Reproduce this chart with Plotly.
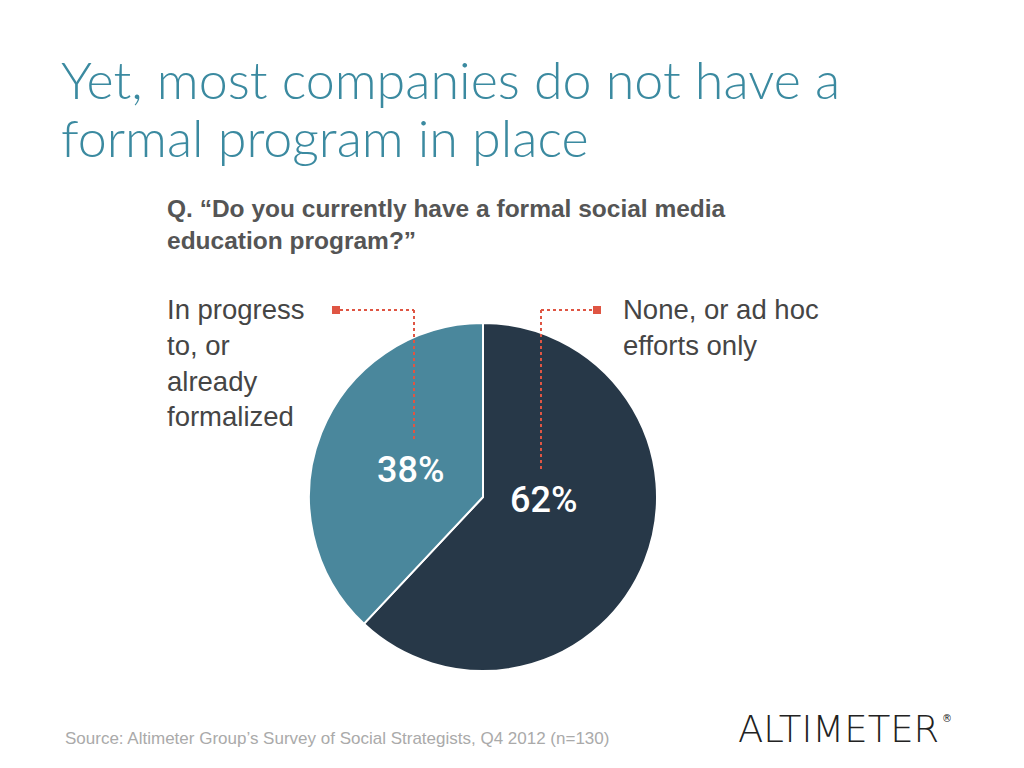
import plotly.graph_objects as go

# ---- data ----
categories = ["None, or ad hoc efforts only", "In progress to, or already formalized"]
values = [62, 38]
colors = ["#273848", "#4a879c"]
title_lines = ["Yet, most companies do not have a", "formal program in place"]
question = "Q. \u201cDo you currently have a formal social media<br>education program?\u201d"
left_label = "In progress<br>to, or<br>already<br>formalized"
right_label = "None, or ad hoc<br>efforts only"
source = "Source: Altimeter Group\u2019s Survey of Social Strategists, Q4 2012 (n=130)"

W, H = 1024, 768
def px(x):
    return x / W
def py(y):
    return 1 - y / H

cx, cy, r = 483, 497, 174

fig = go.Figure()
fig.add_trace(go.Pie(
    labels=categories, values=values, sort=False, direction="clockwise", rotation=0,
    marker=dict(colors=colors, line=dict(color="white", width=2)),
    textinfo="none", hoverinfo="label+percent", showlegend=False,
    domain=dict(x=[px(cx - r), px(cx + r)], y=[py(cy + r), py(cy - r)]),
))

total = sum(values)
pct = [f"{round(v * 100 / total)}%" for v in values]

ann = []
# title (two lines, placed individually for tight line spacing)
for i, line in enumerate(title_lines):
    ann.append(dict(text=line, x=px(59), y=py(79 + 58 * i), xref="paper", yref="paper",
                    xanchor="left", yanchor="middle", align="left", showarrow=False,
                    font=dict(family="Lato", size=52, color="#3b8aa0", weight=300)))
# question
ann.append(dict(text=question, x=px(165), y=py(193), xref="paper", yref="paper",
                xanchor="left", yanchor="top", align="left", showarrow=False,
                font=dict(family="Liberation Sans", size=24.5, color="#555555", weight="bold")))
# left label
ann.append(dict(text=left_label, x=px(165), y=py(292), xref="paper", yref="paper",
                xanchor="left", yanchor="top", align="left", showarrow=False,
                font=dict(family="Liberation Sans", size=27.5, color="#454545")))
# right label
ann.append(dict(text=right_label, x=px(621), y=py(292), xref="paper", yref="paper",
                xanchor="left", yanchor="top", align="left", showarrow=False,
                font=dict(family="Liberation Sans", size=27.5, color="#454545")))
# percentages
ann.append(dict(text=pct[1], x=px(410), y=py(470), xref="paper", yref="paper",
                showarrow=False, font=dict(family="Roboto", size=36, color="white", weight=500)))
ann.append(dict(text=pct[0], x=px(543), y=py(500), xref="paper", yref="paper",
                showarrow=False, font=dict(family="Roboto", size=36, color="white", weight=500)))
# source
ann.append(dict(text=source, x=px(63), y=py(738), xref="paper", yref="paper",
                xanchor="left", yanchor="middle", showarrow=False,
                font=dict(family="Liberation Sans", size=17, color="#aaaaaa")))
# logo
ann.append(dict(text="ALTIMETER", x=px(736), y=py(729), xref="paper", yref="paper",
                xanchor="left", yanchor="middle", showarrow=False,
                font=dict(family="DejaVu Sans", size=37, color="#222222", weight=200)))
ann.append(dict(text="\u00ae", x=px(940), y=py(718), xref="paper", yref="paper",
                xanchor="left", yanchor="middle", showarrow=False,
                font=dict(family="DejaVu Sans", size=10, color="#222222")))

red = "#df5543"
shapes = []
def dotted(x0, y0, x1, y1):
    shapes.append(dict(type="line", xref="paper", yref="paper",
                       x0=px(x0), y0=py(y0), x1=px(x1), y1=py(y1),
                       line=dict(color=red, width=2, dash="dot")))
def square(x, y, s=8):
    shapes.append(dict(type="rect", xref="paper", yref="paper",
                       x0=px(x - s / 2), x1=px(x + s / 2), y0=py(y + s / 2), y1=py(y - s / 2),
                       fillcolor=red, line=dict(width=0)))

dotted(340, 310, 414, 310)
dotted(414, 310, 414, 442)
square(336, 310)
dotted(541, 310, 593, 310)
dotted(541, 310, 541, 470)
square(597, 310)

fig.update_layout(width=W, height=H, margin=dict(l=0, r=0, t=0, b=0),
                  paper_bgcolor="white", plot_bgcolor="white",
                  annotations=ann, shapes=shapes)
fig.write_html("out.html")
